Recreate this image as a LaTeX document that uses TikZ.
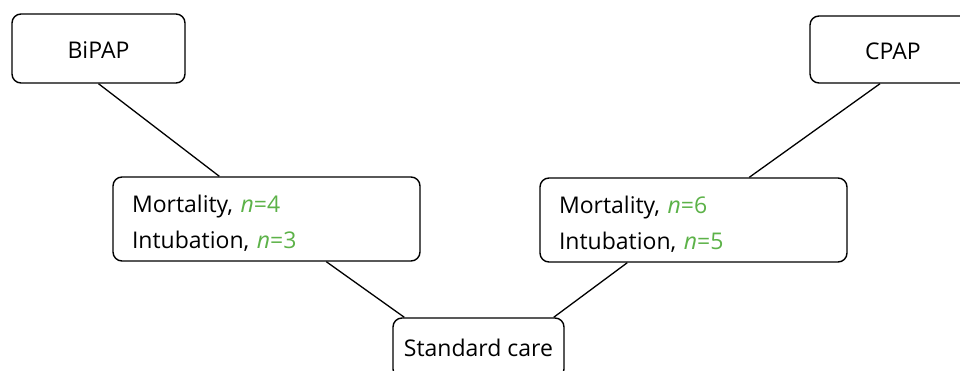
\documentclass[tikz,border=0pt]{standalone}
\usepackage{fontspec}
\setmainfont{Open Sans}
\usepackage{tikz}
\usetikzlibrary{positioning}
\definecolor{ngreen}{RGB}{92,178,72}
\tikzset{
  arm/.style={draw, rounded corners=9pt, line width=1.4pt, fill=white, font=\fontsize{23}{36}\selectfont, inner sep=0pt},
  outc/.style={arm, align=left, text width=269pt, minimum width=307pt, minimum height=84pt},
  link/.style={line width=1.3pt}
}
\newcommand{\nval}[1]{\textcolor{ngreen}{\textit{n}=#1}}

\begin{document}
\begin{tikzpicture}[x=1pt, y=-1pt]
\path[use as bounding box, clip] (0,0) rectangle (960,371);
\node[arm, minimum width=173pt, minimum height=69pt, text height=21pt, text depth=0pt] (bipap) at (98.5,48.5) {BiPAP};
\node[arm, minimum width=166pt, minimum height=67pt, text height=21pt, text depth=0pt] (cpap) at (893,49.5) {CPAP};
\node[outc] (outl) at (266.5,219) {\rule{0pt}{25pt}Mortality, \nval{4}\\Intubation, \nval{3}};
\node[outc] (outr) at (693.5,220) {\rule{0pt}{25pt}Mortality, \nval{6}\\Intubation, \nval{5}};
\node[arm, minimum width=171pt, minimum height=60pt] (care) at (478.5,348) {Standard care};
\draw[link] (bipap.south) -- ([xshift=107pt]outl.north west);
\draw[link] ([xshift=-13pt]cpap.south) -- ([xshift=210pt]outr.north west);
\draw[link] ([xshift=214pt]outl.south west) -- ([xshift=12pt]care.north west);
\draw[link] ([xshift=88pt]outr.south west) -- ([xshift=-11pt]care.north east);
\end{tikzpicture}
\end{document}
